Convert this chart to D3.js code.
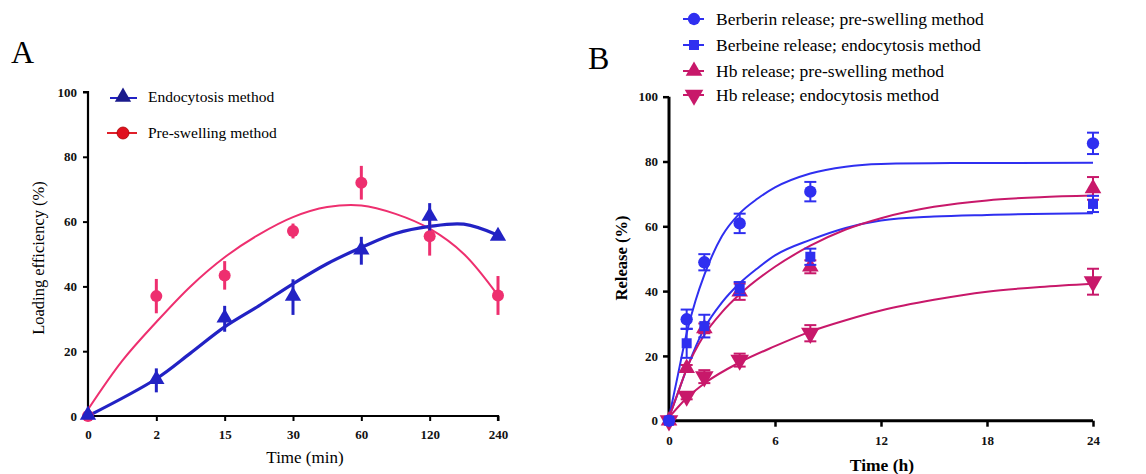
<!DOCTYPE html>
<html>
<head>
<meta charset="utf-8">
<script src="https://cdnjs.cloudflare.com/ajax/libs/d3/7.8.5/d3.min.js"></script>
<style>
body { margin: 0; background: #fff; }
svg text { font-family: "Liberation Serif", "DejaVu Serif", serif; }
</style>
</head>
<body>
<svg id="chart" width="1146" height="474"></svg>
<script>
// ---------- panel A data ----------
var timeCatsA = ["0", "2", "15", "30", "60", "120", "240"];
var endoA = [0, 11, 30, 36.7, 51, 61.4, 55.2];
var endoErrA = [0, 3.7, 4, 5.5, 4.3, 4.3, 0.8];
var preA = [0, 37, 43.4, 57.1, 72, 55.5, 37.2];
var preErrA = [0, 5.3, 4.4, 2.3, 5.2, 6, 6];
// fitted curves (x = category index)
var endoFitX = [0, 1, 1.5, 2, 2.5, 3, 3.5, 4, 4.5, 5, 5.5, 6];
var endoFitY = [0, 11.5, 19.4, 27.5, 34, 40.8, 47, 52, 56.3, 58.5, 59.2, 55.8];
var preFitX = [0, 0.5, 1, 1.5, 2, 2.5, 3, 3.5, 4, 4.5, 5, 5.5, 6];
var preFitY = [2, 17, 29, 40, 49, 56, 61.4, 64.5, 65, 62.4, 57.8, 50, 37.2];
var yTicksA = [0, 20, 40, 60, 80, 100];

// ---------- panel B data ----------
var hoursB = [0, 1, 2, 4, 8, 24];
var berPre = [0, 31.3, 48.9, 60.9, 70.7, 85.6];
var berPreErr = [0, 3, 2.5, 3, 3, 3.3];
var berEndo = [0, 23.9, 29.2, 40.8, 50.6, 66.9];
var berEndoErr = [0, 4.5, 3.5, 2, 2.5, 2.5];
var hbPre = [0, 16.2, 28.5, 39.8, 47.5, 71.7];
var hbPreErr = [0, 1, 1.5, 2.5, 2, 3.5];
var hbEndo = [0, 7.6, 13.6, 18.7, 27, 42.9];
var hbEndoErr = [0, 1, 2, 2, 2.5, 4];
var berPreFitX = [0, 0.5, 1, 1.5, 2, 3, 4, 5, 6, 8, 10, 12, 16, 24];
var berPreFitY = [1, 14, 27, 37, 45, 57, 64, 68.5, 72, 76.3, 78.4, 79.2, 79.5, 79.6];
var berEndoFitX = [0, 0.5, 1, 2, 3, 4, 5, 6, 8, 10, 12, 15, 18, 24];
var berEndoFitY = [1, 8.5, 16, 28.5, 36.5, 42.4, 47, 51, 55.8, 59.5, 61.8, 63, 63.5, 64];
var hbPreFitX = [0, 0.5, 1, 2, 3, 4, 6, 8, 10, 12, 15, 18, 21, 24];
var hbPreFitY = [1, 8.5, 16, 26.5, 33.5, 39, 47.5, 54, 59, 62.5, 66, 68, 69, 69.5];
var hbEndoFitX = [0, 1, 2, 4, 6, 8, 10, 12, 15, 18, 21, 24];
var hbEndoFitY = [1, 7, 11.5, 18, 23, 27.5, 31, 34, 37.3, 39.8, 41.3, 42.3];
var xTicksB = [0, 6, 12, 18, 24];
var yTicksB = [0, 20, 40, 60, 80, 100];

var svg = d3.select("#chart");
svg.append("rect").attr("width", 1146).attr("height", 474).attr("fill", "#fff");

function zip(xs, ys) {
    return xs.map(function(x, i) { return [x, ys[i]]; });
}

// ================= PANEL A =================
var blueA = "#2222c4", navyA = "#1a1a8c", pinkA = "#ee2f6f";
var xA = d3.scalePoint().domain(timeCatsA).range([88, 498]);
var xIdxA = d3.scaleLinear().domain([0, 6]).range([88, 498]);
var yA = d3.scaleLinear().domain([0, 100]).range([416, 92]);

svg.append("text").attr("x", 11).attr("y", 63).attr("font-size", 32).text("A");

var gA = svg.append("g");
var axYA = gA.append("g").attr("transform", "translate(88,0)")
    .call(d3.axisLeft(yA).tickValues(yTicksA).tickSize(5).tickPadding(6));
var axXA = gA.append("g").attr("transform", "translate(0,416)")
    .call(d3.axisBottom(xA).tickSize(5).tickPadding(9));
[axYA, axXA].forEach(function(a) {
    a.select(".domain").attr("stroke", "#000").attr("stroke-width", 2.2);
    a.selectAll(".tick line").attr("stroke", "#000").attr("stroke-width", 2);
    a.selectAll("text").attr("font-size", 13).attr("font-weight", "bold")
        .attr("font-family", "Liberation Serif").attr("fill", "#111");
});
axYA.select(".domain").attr("d", "M-5,416H0V92H-5");
axXA.select(".domain").attr("d", "M88,5V0H498V5");

gA.append("text").attr("x", 305).attr("y", 463).attr("text-anchor", "middle")
    .attr("font-size", 17).text("Time (min)");
gA.append("text").attr("transform", "translate(44,258) rotate(-90)")
    .attr("text-anchor", "middle").attr("font-size", 16.5).text("Loading efficiency (%)");

var lineA = d3.line().curve(d3.curveCatmullRom)
    .x(function(d) { return xIdxA(d[0]); }).y(function(d) { return yA(d[1]); });

gA.append("path").datum(zip(preFitX, preFitY)).attr("d", lineA)
    .attr("fill", "none").attr("stroke", pinkA).attr("stroke-width", 2);
gA.append("path").datum(zip(endoFitX, endoFitY)).attr("d", lineA)
    .attr("fill", "none").attr("stroke", blueA).attr("stroke-width", 3.2);

// error bars A (no caps)
function errBarsA(vals, errs, color) {
    gA.selectAll(null).data(timeCatsA).enter().append("line")
        .attr("x1", function(d) { return xA(d); }).attr("x2", function(d) { return xA(d); })
        .attr("y1", function(d, i) { return yA(vals[i] - errs[i]); })
        .attr("y2", function(d, i) { return yA(vals[i] + errs[i]); })
        .attr("stroke", color).attr("stroke-width", 3);
}
errBarsA(preA, preErrA, pinkA);
errBarsA(endoA, endoErrA, blueA);

var triA = d3.symbol().type(d3.symbolTriangle).size(115);
gA.selectAll(null).data(timeCatsA).enter().append("circle")
    .attr("cx", function(d) { return xA(d); })
    .attr("cy", function(d, i) { return yA(preA[i]); })
    .attr("r", 6).attr("fill", pinkA);
gA.selectAll(null).data(timeCatsA).enter().append("path")
    .attr("d", triA)
    .attr("transform", function(d, i) { return "translate(" + xA(d) + "," + (yA(endoA[i]) - 1) + ")"; })
    .attr("fill", blueA);

// legend A
var legA = gA.append("g");
legA.append("line").attr("x1", 110).attr("x2", 137).attr("y1", 98).attr("y2", 98)
    .attr("stroke", blueA).attr("stroke-width", 2);
legA.append("path").attr("d", triA).attr("transform", "translate(123,97)").attr("fill", navyA);
legA.append("text").attr("x", 148).attr("y", 102).attr("font-size", 15.5).text("Endocytosis method");
legA.append("line").attr("x1", 107).attr("x2", 137).attr("y1", 133).attr("y2", 133)
    .attr("stroke", "#e0202a").attr("stroke-width", 2);
legA.append("circle").attr("cx", 123).attr("cy", 133).attr("r", 6)
    .attr("fill", "#e0101e").attr("stroke", "#a00").attr("stroke-width", 0.8);
legA.append("text").attr("x", 148).attr("y", 138).attr("font-size", 15.5).text("Pre-swelling method");

// ================= PANEL B =================
var blueB = "#2f2ff0", magB = "#c8186a";
var xB = d3.scaleLinear().domain([0, 24]).range([669, 1093]);
var yB = d3.scaleLinear().domain([0, 100]).range([420.7, 96.7]);

svg.append("text").attr("x", 588).attr("y", 69).attr("font-size", 32).text("B");

var gB = svg.append("g");
var axYB = gB.append("g").attr("transform", "translate(669,0)")
    .call(d3.axisLeft(yB).tickValues(yTicksB).tickSize(6).tickPadding(5));
var axXB = gB.append("g").attr("transform", "translate(0,420.7)")
    .call(d3.axisBottom(xB).tickValues(xTicksB).tickSize(6).tickPadding(9));
[axYB, axXB].forEach(function(a) {
    a.select(".domain").attr("stroke", "#000").attr("stroke-width", 3);
    a.selectAll(".tick line").attr("stroke", "#000").attr("stroke-width", 2.5);
    a.selectAll("text").attr("font-size", 13).attr("font-weight", "bold")
        .attr("font-family", "Liberation Serif").attr("fill", "#111");
});
axYB.select(".domain").attr("d", "M0,420.7V96.7");
axXB.select(".domain").attr("d", "M669,0H1093");

gB.append("text").attr("x", 882).attr("y", 471).attr("text-anchor", "middle")
    .attr("font-size", 17.5).attr("font-weight", "bold").text("Time (h)");
gB.append("text").attr("transform", "translate(627,258) rotate(-90)")
    .attr("text-anchor", "middle").attr("font-size", 16.5).attr("font-weight", "bold").text("Release (%)");

var lineB = d3.line().curve(d3.curveMonotoneX)
    .x(function(d) { return xB(d[0]); }).y(function(d) { return yB(d[1]); });

var seriesB = [
    { name: "Berberin release; pre-swelling method", vals: berPre, errs: berPreErr, fx: berPreFitX, fy: berPreFitY, color: blueB, sym: d3.symbolCircle, size: 120, rot: 0 },
    { name: "Berbeine release; endocytosis method", vals: berEndo, errs: berEndoErr, fx: berEndoFitX, fy: berEndoFitY, color: blueB, sym: d3.symbolSquare, size: 100, rot: 0 },
    { name: "Hb release; pre-swelling method", vals: hbPre, errs: hbPreErr, fx: hbPreFitX, fy: hbPreFitY, color: magB, sym: d3.symbolTriangle, size: 120, rot: 0 },
    { name: "Hb release; endocytosis method", vals: hbEndo, errs: hbEndoErr, fx: hbEndoFitX, fy: hbEndoFitY, color: magB, sym: d3.symbolTriangle, size: 150, rot: 180 }
];

seriesB.forEach(function(s) {
    gB.append("path").datum(zip(s.fx, s.fy)).attr("d", lineB)
        .attr("fill", "none").attr("stroke", s.color).attr("stroke-width", 2);
});

// markers drawn in reverse so the blue series sit on top (as at t = 0)
seriesB.slice().reverse().forEach(function(s) {
    var eb = gB.append("g").attr("stroke", s.color).attr("stroke-width", 2);
    hoursB.forEach(function(h, i) {
        if (!s.errs[i]) return;
        var x = xB(h), y1 = yB(s.vals[i] - s.errs[i]), y2 = yB(s.vals[i] + s.errs[i]);
        eb.append("line").attr("x1", x).attr("x2", x).attr("y1", y1).attr("y2", y2);
        eb.append("line").attr("x1", x - 6).attr("x2", x + 6).attr("y1", y1).attr("y2", y1);
        eb.append("line").attr("x1", x - 6).attr("x2", x + 6).attr("y1", y2).attr("y2", y2);
    });
    var sym = d3.symbol().type(s.sym).size(s.size);
    gB.selectAll(null).data(hoursB).enter().append("path")
        .attr("d", sym)
        .attr("transform", function(d, i) {
            return "translate(" + xB(d) + "," + yB(s.vals[i]) + ") rotate(" + s.rot + ")";
        })
        .attr("fill", s.color);
});

// legend B
var legRows = [19, 45, 71, 95];
seriesB.forEach(function(s, i) {
    var y = legRows[i];
    gB.append("line").attr("x1", 683).attr("x2", 704).attr("y1", y).attr("y2", y)
        .attr("stroke", s.color).attr("stroke-width", 2);
    gB.append("path").attr("d", d3.symbol().type(s.sym).size(s.size))
        .attr("transform", "translate(694," + y + ") rotate(" + s.rot + ")").attr("fill", s.color);
    gB.append("text").attr("x", 716).attr("y", y + 5.5).attr("font-size", 17.5).text(s.name);
});
</script>
</body>
</html>
